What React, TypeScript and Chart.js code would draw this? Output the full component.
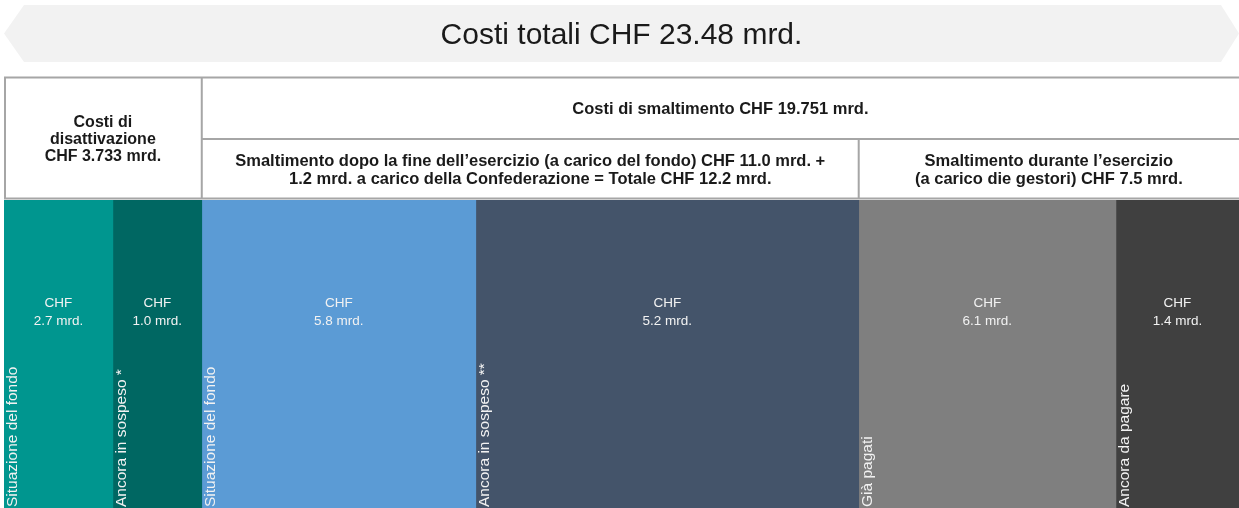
import React, { useEffect, useRef } from "react";
import { Chart, registerables } from "chart.js";

Chart.register(...registerables);

// ---- Data ----
const segmentNames = [
  "Situazione del fondo",
  "Ancora in sospeso *",
  "Situazione del fondo",
  "Ancora in sospeso **",
  "Già pagati",
  "Ancora da pagare",
];
const segmentValues = [2.7, 1.0, 5.8, 5.2, 6.1, 1.4]; // CHF mrd. (as labelled)
// column widths as drawn in the picture, in mrd.-equivalent units (sum = 23.48)
const displayShares = [2.07, 1.69, 5.21, 7.28, 4.89, 2.34];
const segmentColors = ["#00968f", "#006762", "#5b9bd5", "#44546a", "#7f7f7f", "#404040"];

const titleText = "Costi totali CHF 23.48 mrd.";
const groupLabels = [
  { from: 0, to: 2, lines: ["Costi di", "disattivazione", "CHF 3.733 mrd."] },
  { from: 2, to: 6, lines: ["Costi di smaltimento CHF 19.751 mrd."] },
];
const subGroupLabels = [
  {
    from: 2,
    to: 4,
    lines: [
      "Smaltimento dopo la fine dell’esercizio (a carico del fondo) CHF 11.0 mrd. +",
      "1.2 mrd. a carico della Confederazione = Totale CHF 12.2 mrd.",
    ],
  },
  {
    from: 4,
    to: 6,
    lines: ["Smaltimento durante l’esercizio", "(a carico die gestori) CHF 7.5 mrd."],
  },
];

const FONT = "'Liberation Sans', Arial, sans-serif";

const decorPlugin = {
  id: "decor",
  afterDraw(chart: any) {
    const ctx = chart.ctx as CanvasRenderingContext2D;
    const ca = chart.chartArea;
    const xs = chart.scales.x;
    const cum = (i: number) => displayShares.slice(0, i).reduce((a, b) => a + b, 0);
    const px = (i: number) => xs.getPixelForValue(cum(i));
    const left = ca.left;
    const right = ca.right;

    ctx.save();
    // Banner
    const bTop = 5, bBot = 62, bMid = (bTop + bBot) / 2, notch = 20;
    ctx.fillStyle = "#f2f2f2";
    ctx.beginPath();
    ctx.moveTo(left + notch, bTop);
    ctx.lineTo(right - 18, bTop);
    ctx.lineTo(right, bMid);
    ctx.lineTo(right - 18, bBot);
    ctx.lineTo(left + notch, bBot);
    ctx.lineTo(left, bMid);
    ctx.closePath();
    ctx.fill();
    ctx.fillStyle = "#1a1a1a";
    ctx.font = `30px ${FONT}`;
    ctx.textAlign = "center";
    ctx.textBaseline = "middle";
    ctx.fillText(titleText, (left + right) / 2, bMid + 2);

    // Header table
    const hTop = 77.5, hMid = 139, hBot = 198.5;
    ctx.strokeStyle = "#a6a6a6";
    ctx.lineWidth = 2;
    ctx.beginPath();
    ctx.moveTo(left, hTop); ctx.lineTo(right, hTop);
    ctx.moveTo(left, hBot); ctx.lineTo(right, hBot);
    ctx.moveTo(left + 1, hTop); ctx.lineTo(left + 1, hBot);
    ctx.moveTo(px(2), hTop); ctx.lineTo(px(2), hBot);
    ctx.moveTo(px(2), hMid); ctx.lineTo(right, hMid);
    ctx.moveTo(px(4), hMid); ctx.lineTo(px(4), hBot);
    ctx.stroke();

    ctx.fillStyle = "#1a1a1a";
    // group 0 spans full height
    {
      const g = groupLabels[0];
      ctx.font = `bold 16px ${FONT}`;
      const cx = (px(g.from) + px(g.to)) / 2;
      const cy = (hTop + hBot) / 2 + 2;
      g.lines.forEach((t, k) => ctx.fillText(t, cx, cy + (k - (g.lines.length - 1) / 2) * 17));
    }
    ctx.font = `bold 16.5px ${FONT}`;
    {
      const g = groupLabels[1];
      const cx = (px(g.from) + right) / 2;
      const cy = (hTop + hMid) / 2 + 1;
      g.lines.forEach((t, k) => ctx.fillText(t, cx, cy + (k - (g.lines.length - 1) / 2) * 18));
    }
    subGroupLabels.forEach((g) => {
      const cx = (px(g.from) + px(g.to)) / 2;
      const cy = (hMid + hBot) / 2 + 2;
      g.lines.forEach((t, k) => ctx.fillText(t, cx, cy + (k - (g.lines.length - 1) / 2) * 18));
    });

    // Bar labels
    ctx.fillStyle = "#f2f2f2";
    ctx.font = `13.5px ${FONT}`;
    segmentValues.forEach((v, i) => {
      const cx = (px(i) + px(i + 1)) / 2;
      ctx.textAlign = "center";
      ctx.textBaseline = "middle";
      ctx.fillText("CHF", cx, 303);
      ctx.fillText(`${v.toFixed(1)} mrd.`, cx, 321);
    });
    ctx.font = `15.5px ${FONT}`;
    segmentNames.forEach((name, i) => {
      ctx.save();
      ctx.translate(px(i) + 13, ca.bottom - 1);
      ctx.rotate(-Math.PI / 2);
      ctx.textAlign = "left";
      ctx.textBaseline = "alphabetic";
      ctx.fillText(name, 0, 0);
      ctx.restore();
    });
    ctx.restore();
  },
};

export default function App() {
  const ref = useRef<HTMLCanvasElement>(null);
  useEffect(() => {
    document.body.style.margin = "0";
    const chart = new Chart(ref.current as HTMLCanvasElement, {
      type: "bar",
      data: {
        labels: ["Costi"],
        datasets: displayShares.map((s, i) => ({
          label: segmentNames[i],
          data: [s],
          backgroundColor: segmentColors[i],
          borderWidth: 0,
          barPercentage: 1,
          categoryPercentage: 1,
        })),
      },
      options: {
        indexAxis: "y",
        animation: false,
        responsive: false,
        layout: { padding: { left: 4, right: 0, top: 200, bottom: 0 } },
        scales: {
          x: { stacked: true, display: false, min: 0, max: displayShares.reduce((a, b) => a + b, 0) },
          y: { stacked: true, display: false },
        },
        plugins: { legend: { display: false }, tooltip: { enabled: false }, title: { display: false } },
      },
      plugins: [decorPlugin],
    });
    return () => chart.destroy();
  }, []);
  return (
    <div style={{ width: 1239, height: 508, position: "relative" }}>
      <canvas ref={ref} width={1239} height={508} style={{ display: "block" }} />
    </div>
  );
}
